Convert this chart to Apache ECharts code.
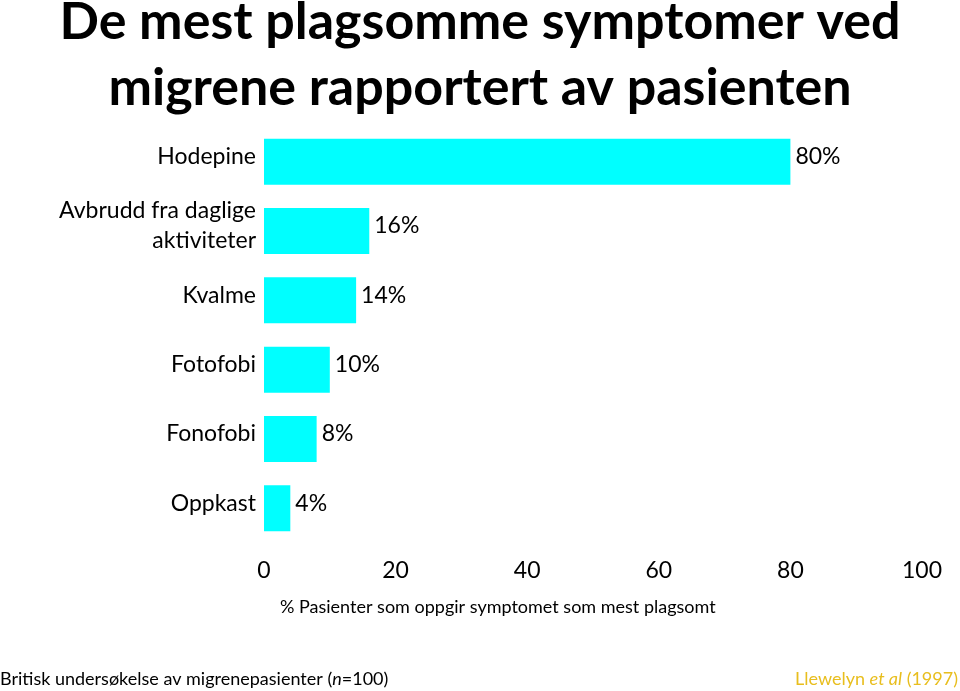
<!DOCTYPE html>
<html>
<head>
<meta charset="utf-8">
<script src="https://cdn.jsdelivr.net/npm/echarts@6/dist/echarts.min.js"></script>
<style>
html,body{margin:0;padding:0;background:#fff;}
#chart{width:960px;height:691px;}
</style>
</head>
<body>
<div id="chart"></div>
<script>
var categories = ['Hodepine', 'Avbrudd fra daglige\naktiviteter', 'Kvalme', 'Fotofobi', 'Fonofobi', 'Oppkast'];
var values = [80, 16, 14, 10, 8, 4];
var xTicks = [0, 20, 40, 60, 80, 100];
var titleText = 'De mest plagsomme symptomer ved\nmigrene rapportert av pasienten';
var axisTitle = '% Pasienter som oppgir symptomet som mest plagsomt';

var FONT = 'Lato';
var chart = echarts.init(document.getElementById('chart'));
chart.setOption({
  backgroundColor: '#ffffff',
  animation: false,
  title: {
    text: titleText,
    left: 'center',
    top: -16,
    textStyle: { fontFamily: FONT, fontWeight: 'bold', fontSize: 52, lineHeight: 66, color: '#000' }
  },
  grid: { left: 264, right: 38, top: 127, bottom: 148, containLabel: false },
  xAxis: {
    type: 'value',
    min: xTicks[0], max: xTicks[xTicks.length - 1], interval: 20,
    axisLine: { show: false }, axisTick: { show: false }, splitLine: { show: false },
    axisLabel: { margin: 16, fontFamily: FONT, fontSize: 23, color: '#000' }
  },
  yAxis: {
    type: 'category',
    inverse: true,
    data: categories,
    axisLine: { show: false }, axisTick: { show: false },
    axisLabel: {
      margin: 8, fontFamily: FONT, fontSize: 23, lineHeight: 30, color: '#000', align: 'right',
      formatter: function (v) { return v + '\n{s|}'; },
      rich: { s: { lineHeight: 10, fontSize: 10 } }
    }
  },
  series: [{
    type: 'bar',
    data: values,
    barWidth: 46,
    itemStyle: { color: '#00FFFF' },
    label: {
      show: true, position: 'right', distance: 5, offset: [0, -5],
      formatter: '{c}%', fontFamily: FONT, fontSize: 23, color: '#000'
    }
  }],
  graphic: [
    { type: 'text', left: 280, top: 598, style: { text: axisTitle, font: '18px ' + FONT, fill: '#000' } },
    { type: 'text', left: 0, top: 670, style: {
        text: 'Britisk undersøkelse av migrenepasienter ({i|n}=100)',
        font: '18px ' + FONT, fill: '#000',
        rich: { i: { fontStyle: 'italic', fontFamily: FONT, fontSize: 18, fill: '#000' } } } },
    { type: 'text', right: 2, top: 670, style: {
        text: 'Llewelyn {i|et al} (1997)',
        font: '18px ' + FONT, fill: '#E8BE1E',
        rich: { i: { fontStyle: 'italic', fontFamily: FONT, fontSize: 18, fill: '#E8BE1E' } } } }
  ]
});
</script>
</body>
</html>
